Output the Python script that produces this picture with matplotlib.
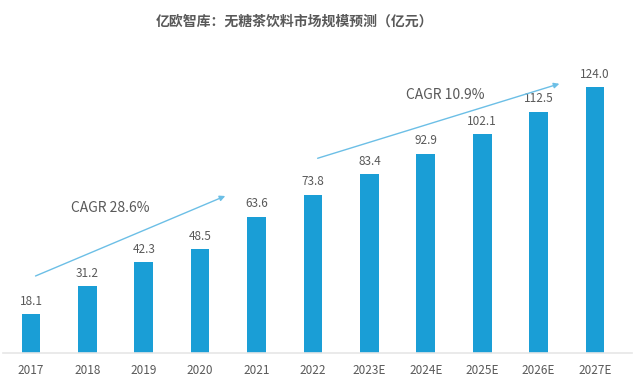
import matplotlib
matplotlib.use("Agg")
import matplotlib.pyplot as plt

plt.rcParams['font.family'] = ['Noto Sans CJK SC', 'DejaVu Sans']

years = ["2017", "2018", "2019", "2020", "2021", "2022", "2023E", "2024E", "2025E", "2026E", "2027E"]
values = [18.1, 31.2, 42.3, 48.5, 63.6, 73.8, 83.4, 92.9, 102.1, 112.5, 124.0]
title = "亿欧智库：无糖茶饮料市场规模预测（亿元）"
cagr_labels = ["CAGR 28.6%", "CAGR 10.9%"]

bar_color = "#1a9ed6"
text_color = "#595959"
arrow_color = "#6cbfe6"

fig = plt.figure(figsize=(6.4, 3.85), dpi=100)
ax = fig.add_axes([3/640, 32/385, 629/640, 293/385])
x = list(range(len(years)))
ax.bar(x, values, width=0.33, color=bar_color)
for xi, v in zip(x, values):
    ax.text(xi, v + 6.0, f"{v:.1f}", ha='center', va='center', fontsize=8.5, color=text_color)

ax.set_xlim(-0.496, 10.656)
ax.set_ylim(0, 136.6)
for s in ['top', 'right', 'left']:
    ax.spines[s].set_visible(False)
ax.spines['bottom'].set_color('#e6e6e6')
ax.spines['bottom'].set_linewidth(1.2)
ax.set_yticks([])
ax.set_xticks(x)
ax.set_xticklabels(years, fontsize=8.5, color=text_color)
ax.tick_params(axis='x', length=0, pad=8)

# CAGR arrows
ax.annotate("", xy=(3.49, 73.7), xytext=(0.035, 35.4),
            arrowprops=dict(arrowstyle='-|>', color=arrow_color, lw=1.0, mutation_scale=8))
ax.annotate("", xy=(9.415, 125.9), xytext=(5.035, 90.4),
            arrowprops=dict(arrowstyle='-|>', color=arrow_color, lw=1.0, mutation_scale=8))
ax.text(1.40, 67.5, cagr_labels[0], ha='center', va='center', fontsize=10, color=text_color)
ax.text(7.34, 120.3, cagr_labels[1], ha='center', va='center', fontsize=10, color=text_color)

fig.text(294/640, 1 - 22/385, title, ha='center', va='center', fontsize=10,
         fontweight='bold', color='#595959')

fig.savefig("out.png", dpi=100)
